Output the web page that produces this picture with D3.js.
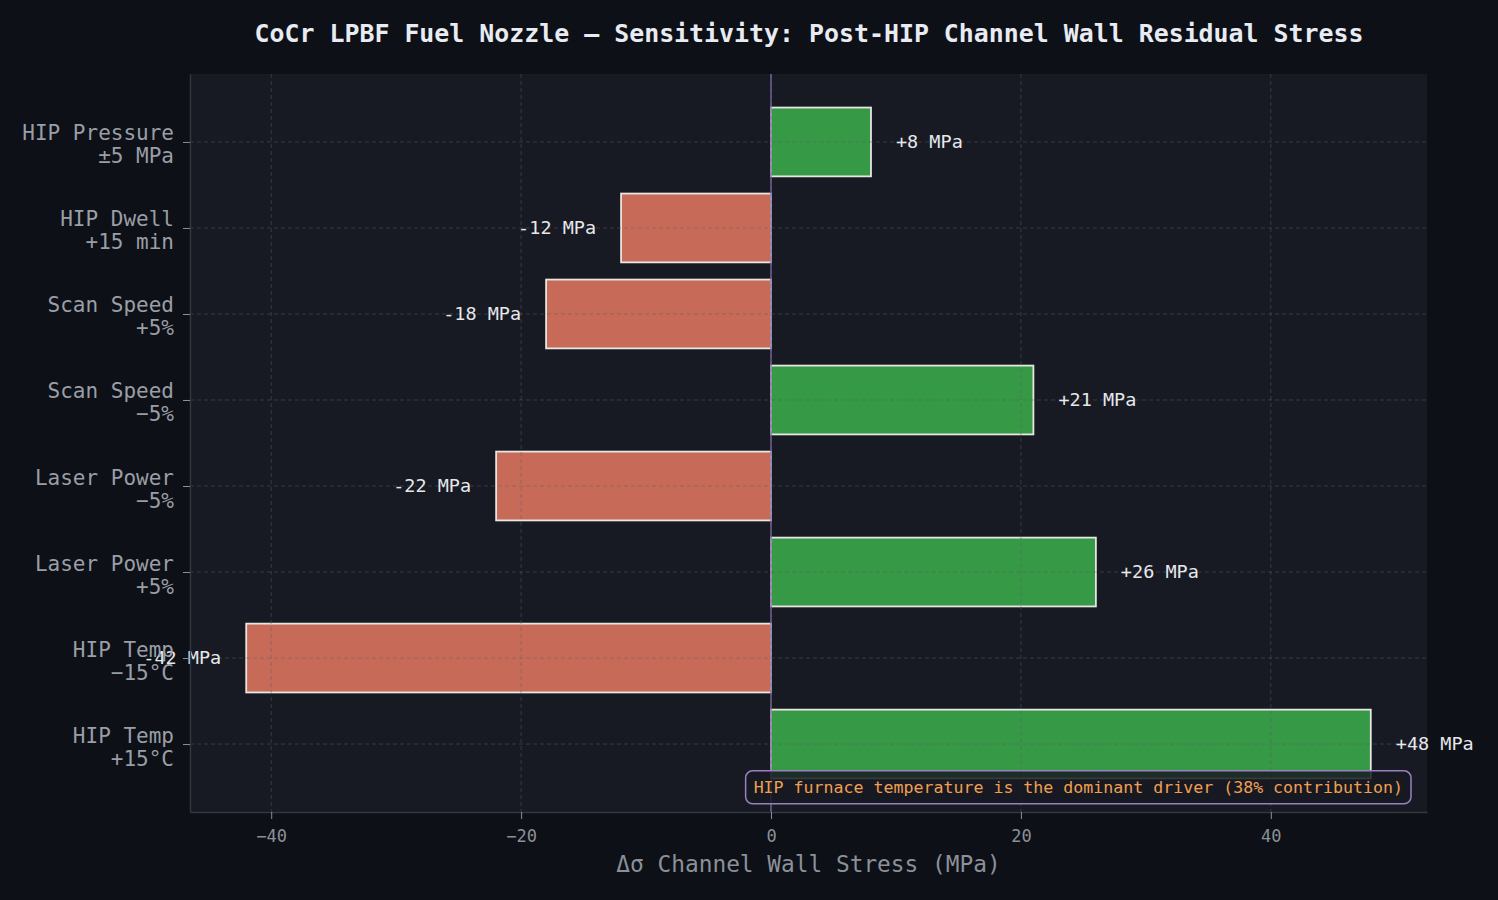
<!DOCTYPE html>
<html>
<head>
<meta charset="utf-8">
<script src="https://cdn.jsdelivr.net/npm/d3@7"></script>
<style>
  html, body { margin: 0; padding: 0; background: #0d1017; }
  svg { display: block; font-family: "DejaVu Sans Mono", monospace; }
</style>
</head>
<body>
<div id="chart"></div>
<script>
// bottom to top, as drawn
const factors = ["HIP Temp\n+15°C", "HIP Temp\n\u221215°C", "Laser Power\n+5%", "Laser Power\n\u22125%",
                 "Scan Speed\n\u22125%", "Scan Speed\n+5%", "HIP Dwell\n+15 min", "HIP Pressure\n±5 MPa"];
const deltas = [48, -42, 26, -22, 21, -18, -12, 8];
const xTicks = [-40, -20, 0, 20, 40];

const W = 1498, H = 900;
const margin = { top: 74, right: 71, bottom: 88, left: 190 };
const pw = W - margin.left - margin.right;
const ph = H - margin.top - margin.bottom;

const svg = d3.select("#chart").append("svg")
    .attr("width", W)
    .attr("height", H);

svg.append("rect").attr("width", W).attr("height", H).attr("fill", "#0d1017");

svg.append("text")
    .attr("x", 809).attr("y", 42)
    .attr("text-anchor", "middle")
    .attr("fill", "#e8ecf2")
    .style("font-size", "24.9px")
    .style("font-weight", "bold")
    .text("CoCr LPBF Fuel Nozzle \u2014 Sensitivity: Post-HIP Channel Wall Residual Stress");

const g = svg.append("g").attr("transform", `translate(${margin.left},${margin.top})`);

g.append("rect").attr("width", pw).attr("height", ph).attr("fill", "#171a22");

// matplotlib-like padding (5%)
const xMin = d3.min(deltas), xMax = d3.max(deltas);
const xPad = (xMax - xMin) * 0.05;
const x = d3.scaleLinear().domain([xMin - xPad, xMax + xPad]).range([0, pw]);

const barH = 0.8;
const yPad = (factors.length - 1 + barH) * 0.05;
const y = d3.scaleLinear()
    .domain([-barH / 2 - yPad, factors.length - 1 + barH / 2 + yPad])
    .range([ph, 0]);

// bars
g.selectAll(".bar").data(deltas).join("rect")
    .attr("class", "bar")
    .attr("x", d => x(Math.min(0, d)))
    .attr("width", d => Math.abs(x(d) - x(0)))
    .attr("y", (d, i) => y(i + barH / 2))
    .attr("height", y(0) - y(barH))
    .attr("fill", d => d >= 0 ? "#359945" : "#c76b58")
    .attr("stroke", "#e8e6e2")
    .attr("stroke-width", 1.8);

// grid (drawn over bars)
g.selectAll(".vgrid").data(xTicks).join("line")
    .attr("x1", d => x(d)).attr("x2", d => x(d))
    .attr("y1", 0).attr("y2", ph)
    .attr("stroke", "#5a5e68").attr("stroke-opacity", 0.6)
    .attr("stroke-width", 0.8).attr("stroke-dasharray", "4,3");
g.selectAll(".hgrid").data(factors).join("line")
    .attr("x1", 0).attr("x2", pw)
    .attr("y1", (d, i) => y(i)).attr("y2", (d, i) => y(i))
    .attr("stroke", "#5a5e68").attr("stroke-opacity", 0.6)
    .attr("stroke-width", 0.8).attr("stroke-dasharray", "4,3");

// zero line
g.append("line")
    .attr("x1", x(0)).attr("x2", x(0)).attr("y1", 0).attr("y2", ph)
    .attr("stroke", "#7d6ba0").attr("stroke-width", 1.3);

// value labels
g.selectAll(".val").data(deltas).join("text")
    .attr("x", d => d >= 0 ? x(d + 2) : x(d - 2))
    .attr("y", (d, i) => y(i))
    .attr("dy", "0.3em")
    .attr("text-anchor", d => d >= 0 ? "start" : "end")
    .attr("fill", "#e6e8ec")
    .style("font-size", "18.5px")
    .text(d => (d > 0 ? "+" : "") + d + " MPa");

// axes
const xAxis = g.append("g").attr("transform", `translate(0,${ph})`)
    .call(d3.axisBottom(x).tickValues(xTicks).tickSize(7).tickSizeOuter(0).tickPadding(11)
        .tickFormat(d => d3.format("d")(d).replace("-", "\u2212")));
xAxis.select(".domain").attr("stroke", "#33373f").attr("stroke-width", 1.5);
xAxis.selectAll(".tick line").attr("stroke", "#8b9099");
xAxis.selectAll(".tick text").attr("fill", "#8b9099").style("font-size", "17px")
    .style("font-family", "DejaVu Sans Mono, monospace");

const yAxis = g.append("g")
    .call(d3.axisLeft(y).tickValues(d3.range(factors.length)).tickSize(7).tickSizeOuter(0).tickPadding(8)
        .tickFormat(() => ""));
yAxis.select(".domain").attr("stroke", "#33373f").attr("stroke-width", 1.5);
yAxis.selectAll(".tick line").attr("stroke", "#8b9099");
yAxis.selectAll(".tick text").each(function (d) {
    const lines = factors[d].split("\n");
    const t = d3.select(this)
        .attr("fill", "#9a9ea6")
        .style("font-size", "21px")
        .style("font-family", "DejaVu Sans Mono, monospace")
        .attr("dy", null);
    lines.forEach((s, k) => {
        t.append("tspan").attr("x", -16).attr("y", -2 + k * 23).text(s);
    });
});

// x label
svg.append("text")
    .attr("x", margin.left + pw / 2).attr("y", 872)
    .attr("text-anchor", "middle")
    .attr("fill", "#8b9099")
    .style("font-size", "22.8px")
    .text("\u0394\u03c3 Channel Wall Stress (MPa)");

// annotation box
const note = "HIP furnace temperature is the dominant driver (38% contribution)";
const noteG = g.append("g");
const noteText = noteG.append("text")
    .attr("x", pw - 24).attr("y", ph - 25)
    .attr("dy", "0.35em")
    .attr("text-anchor", "end")
    .attr("fill", "#f0a050")
    .style("font-size", "16.6px")
    .text(note);
const bb = noteText.node().getBBox();
noteG.insert("rect", "text")
    .attr("x", bb.x - 8).attr("y", bb.y - 7)
    .attr("width", bb.width + 16).attr("height", bb.height + 14)
    .attr("rx", 7)
    .attr("fill", "#171a22").attr("fill-opacity", 0.85)
    .attr("stroke", "#9a80c0").attr("stroke-width", 1.5);
</script>
</body>
</html>
